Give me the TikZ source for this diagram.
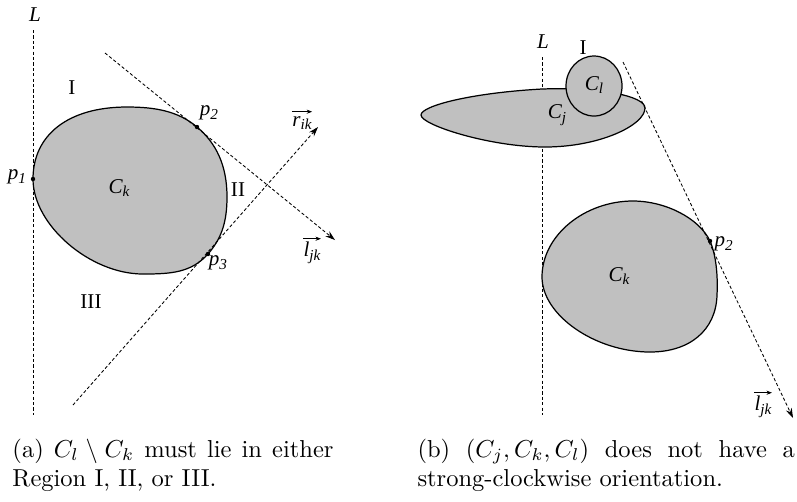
\documentclass[tikz,border=0pt]{standalone}
\usepackage{fontspec}
\newfontfamily\tms{Liberation Serif}
\usetikzlibrary{arrows.meta}
\definecolor{blobgray}{RGB}{192,192,192}
\newcommand{\lab}[1]{{\tms\fontsize{8.6}{10}\selectfont\itshape #1}}
\newcommand{\rom}[1]{{\tms\fontsize{8.6}{10}\selectfont #1}}
\newcommand{\sbs}[1]{\raisebox{-0.4ex}{\fontsize{6.2}{7}\selectfont #1}}
\begin{document}
\begin{tikzpicture}[x=0.408pt,y=-0.408pt,
  dline/.style={line width=0.35pt,dash pattern=on 1.3pt off 0.9pt},
  arr/.style={-{Stealth[length=4pt,width=2.6pt]}},
  vec/.style={line width=0.3pt,-{Stealth[length=2.2pt,width=1.7pt]}},
  blob/.style={fill=blobgray,draw=black,line width=0.5pt},
  txt/.style={inner sep=0pt},
  pdot/.style={circle,fill=black,inner sep=0pt,minimum size=1.8pt}]
\useasboundingbox (0,0) rectangle (797,501);

% ---------------- left panel (a) ----------------
\coordinate (La1) at (33,30);
\coordinate (La2) at (33,415);
\draw[dline] (La1) -- (La2);
\node[txt] (La) at (35,15) {\lab{L}};

\draw[blob] (33,179) .. controls (33,135) and (68,107) .. (127,107)
  .. controls (155,107) and (178,111) .. (197,127)
  .. controls (216,143) and (227,165) .. (227,197)
  .. controls (227,225) and (220,240) .. (208,254)
  .. controls (191,273) and (170,274) .. (143,274)
  .. controls (90,274) and (33,225) .. cycle;

\coordinate (l1) at (105,53);
\coordinate (l2) at (335,240);
\coordinate (r1) at (73,405);
\coordinate (r2) at (318,127);
\draw[dline,arr] (l1) -- (l2);
\draw[dline,arr] (r1) -- (r2);

\node[pdot] (P1) at (33,179) {};
\node[pdot] (P2) at (197,127) {};
\node[pdot] (P3) at (208,254) {};

\node[txt] (P1l) at (17,177) {\lab{p\sbs{1}}};
\node[txt] (P2l) at (209,113) {\lab{p\sbs{2}}};
\node[txt] (P3l) at (218,263) {\lab{p\sbs{3}}};
\node[txt] (Cka) at (119,188) {\lab{C\sbs{k}}};
\node[txt] (Ra) at (72,88) {\rom{I}};
\node[txt] (Rb) at (238,190) {\rom{II}};
\node[txt] (Rc) at (91,302) {\rom{III}};
\node[txt] (rik) at (302,123) {\lab{r\sbs{ik}}};
\node[txt] (ljka) at (312,253) {\lab{l\sbs{jk}}};
\draw[vec] ([yshift=1.6pt]rik.north west) -- ([yshift=1.6pt]rik.north east);
\draw[vec] ([yshift=1.2pt]ljka.north west) -- ([yshift=1.2pt]ljka.north east);

% ---------------- right panel (b) ----------------
\coordinate (Lb1) at (542,57);
\coordinate (Lb2) at (542,415);
\draw[dline] (Lb1) -- (Lb2);
\node[txt] (Lb) at (543,42) {\lab{L}};

\draw[blob] (421,115) .. controls (421,106) and (470,93) .. (542,89)
  .. controls (600,87) and (645,96) .. (645,108)
  .. controls (645,125) and (600,147) .. (545,147)
  .. controls (490,147) and (421,125) .. cycle;

\draw[blob] (594,86) ellipse [x radius=28, y radius=30];

\draw[blob] (542,277) .. controls (542,235) and (585,201) .. (633,201)
  .. controls (665,201) and (699,218) .. (710,241)
  .. controls (716,255) and (718,275) .. (717,295)
  .. controls (716,330) and (690,352) .. (650,352)
  .. controls (595,352) and (542,315) .. cycle;

\coordinate (m1) at (623,62);
\coordinate (m2) at (793,418);
\draw[dline,arr] (m1) -- (m2);
\node[pdot] (Q2) at (710,241) {};

\node[txt,anchor=west] (Q2l) at (714,244) {\lab{p\sbs{2}}};
\node[txt] (Cj) at (557,115) {\lab{C\sbs{j}}};
\node[txt] (Cl) at (594,85) {\lab{C\sbs{l}}};
\node[txt] (Rb1) at (583,48) {\rom{I}};
\node[txt] (Ckb) at (619,276) {\lab{C\sbs{k}}};
\node[txt] (ljkb) at (763,407) {\lab{l\sbs{jk}}};
\draw[vec] ([yshift=1.2pt]ljkb.north west) -- ([yshift=1.2pt]ljkb.north east);

% ---------------- captions ----------------
\node[txt,anchor=base west] (capa1) at (12,457)
  {\hbox to 131pt{(a) $C_l\setminus C_k$ must lie in either}};
\node[txt,anchor=base west] (capa2) at (12,486) {Region I, II, or III.};
\node[txt,anchor=base west] (capb1) at (417,457)
  {\hbox to 154pt{(b) $(C_j,C_k,C_l)$ does not have a}};
\node[txt,anchor=base west] (capb2) at (417,486) {strong-clockwise orientation.};
\end{tikzpicture}
\end{document}
